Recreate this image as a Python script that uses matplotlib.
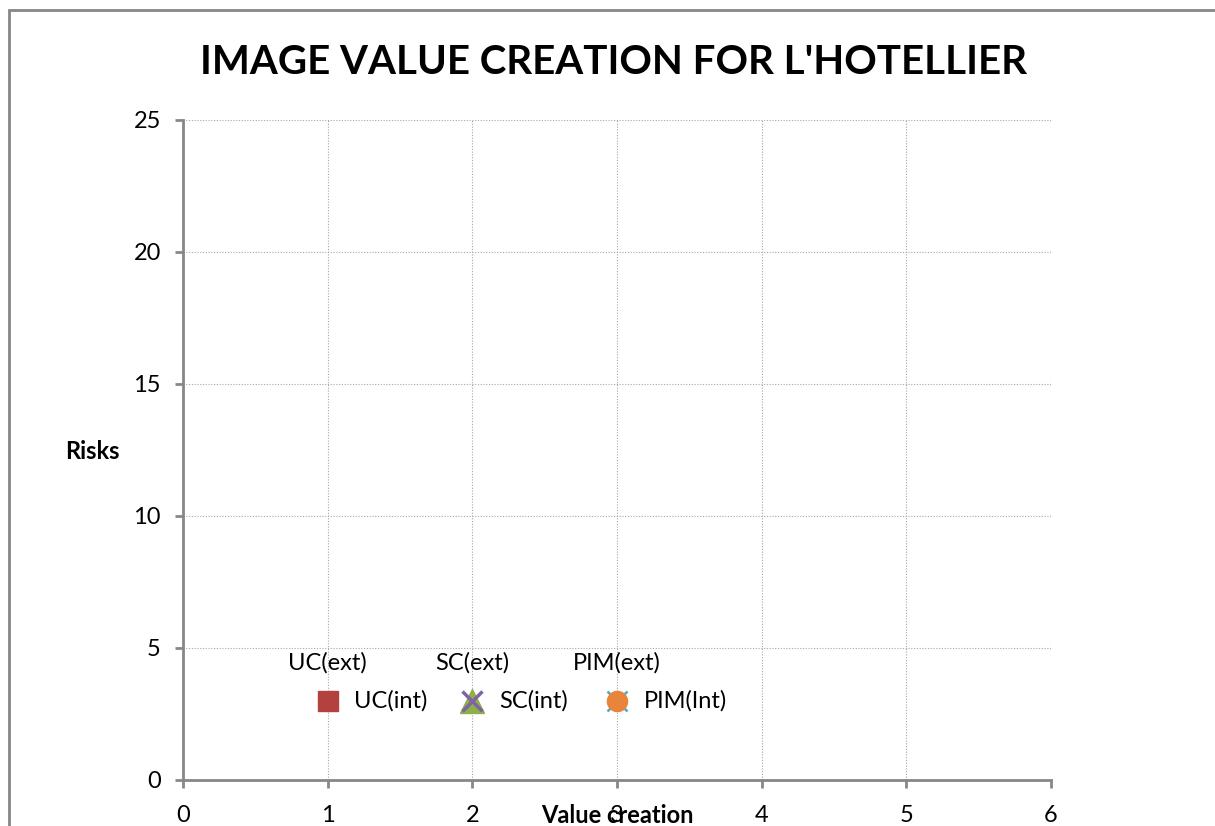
import matplotlib
matplotlib.use("Agg")
import matplotlib.pyplot as plt
import matplotlib.patches as patches

plt.rcParams['font.family'] = ['Lato', 'DejaVu Sans']

# value creation (x) and risk (y) for each item, internal and external
names_ext = ["UC(ext)", "SC(ext)", "PIM(ext)"]
names_int = ["UC(int)", "SC(int)", "PIM(Int)"]
value_ext = [1, 2, 3]
risk_ext = [3, 3, 3]
value_int = [1, 2, 3]
risk_int = [3, 3, 3]

xticks = [0, 1, 2, 3, 4, 5, 6]
yticks = [0, 5, 10, 15, 20, 25]

ext_style = [("D", "#4F81BD"), ("^", "#8DB04A"), ("x", "#4BACC6")]
int_style = [("s", "#B3423F"), ("x", "#7F63A2"), ("o", "#E8853A")]

fig = plt.figure(figsize=(12.15, 8.26), dpi=100)
ax = fig.add_axes([183/1215, 46/826, 868/1215, 660/826])

for i in range(3):
    m, c = ext_style[i]
    if m == "x":
        ax.plot(value_ext[i], risk_ext[i], marker=m, ms=14, mew=1.8, color=c,
                linestyle="none", zorder=3)
    elif m == "D":
        ax.plot(value_ext[i], risk_ext[i], marker=m, ms=10, color=c, mec=c,
                linestyle="none", zorder=3)
    else:
        ax.plot(value_ext[i], risk_ext[i], marker=m, ms=17, color=c, mec=c,
                linestyle="none", zorder=3)
    ax.annotate(names_ext[i], (value_ext[i], risk_ext[i]), xytext=(0, 27),
                textcoords="offset points", ha="center", va="center", fontsize=17)
for i in range(3):
    m, c = int_style[i]
    if m == "x":
        ax.plot(value_int[i], risk_int[i], marker=m, ms=14, mew=2.5, color=c,
                linestyle="none", zorder=4)
    else:
        ax.plot(value_int[i], risk_int[i], marker=m, ms=14.5, color=c, mec=c,
                linestyle="none", zorder=4)
    ax.annotate(names_int[i], (value_int[i], risk_int[i]), xytext=(19, 0),
                textcoords="offset points", ha="left", va="center", fontsize=17)

ax.set_xlim(0, 6)
ax.set_ylim(0, 25)
ax.set_xticks(xticks)
ax.set_yticks(yticks)
ax.grid(True, linestyle=(0, (1, 1.5)), color="#a6a6a6", linewidth=0.8)
ax.set_axisbelow(True)

for s in ["top", "right"]:
    ax.spines[s].set_visible(False)
for s in ["left", "bottom"]:
    ax.spines[s].set_color("#878787")
    ax.spines[s].set_linewidth(2)
ax.tick_params(axis="x", direction="out", length=6, width=2, color="#878787",
               pad=12, labelsize=17)
ax.tick_params(axis="y", direction="out", length=6, width=2, color="#878787",
               pad=10, labelsize=17)

ax.set_xlabel("Value creation", fontsize=17, fontweight="bold")
ax.xaxis.set_label_coords(0.5, -0.0545)
ax.xaxis.label.set_va("center")
ax.set_ylabel("Risks", fontsize=17, fontweight="bold", rotation=0)
ax.yaxis.set_label_coords(-0.1048, 0.497)
ax.yaxis.label.set_va("center")
ax.yaxis.label.set_ha("center")

fig.text(614/1215, 1 - 62/826, "IMAGE VALUE CREATION FOR L'HOTELLIER",
         ha="center", va="center", fontsize=29, fontweight="bold")

# outer chart frame
fig.patches.append(patches.Rectangle((9/1215, -0.1), 1.1, 1.1 - 10.5/826,
                                     transform=fig.transFigure, fill=False,
                                     edgecolor="#868686", linewidth=2))

fig.savefig("out.png", dpi=100)
